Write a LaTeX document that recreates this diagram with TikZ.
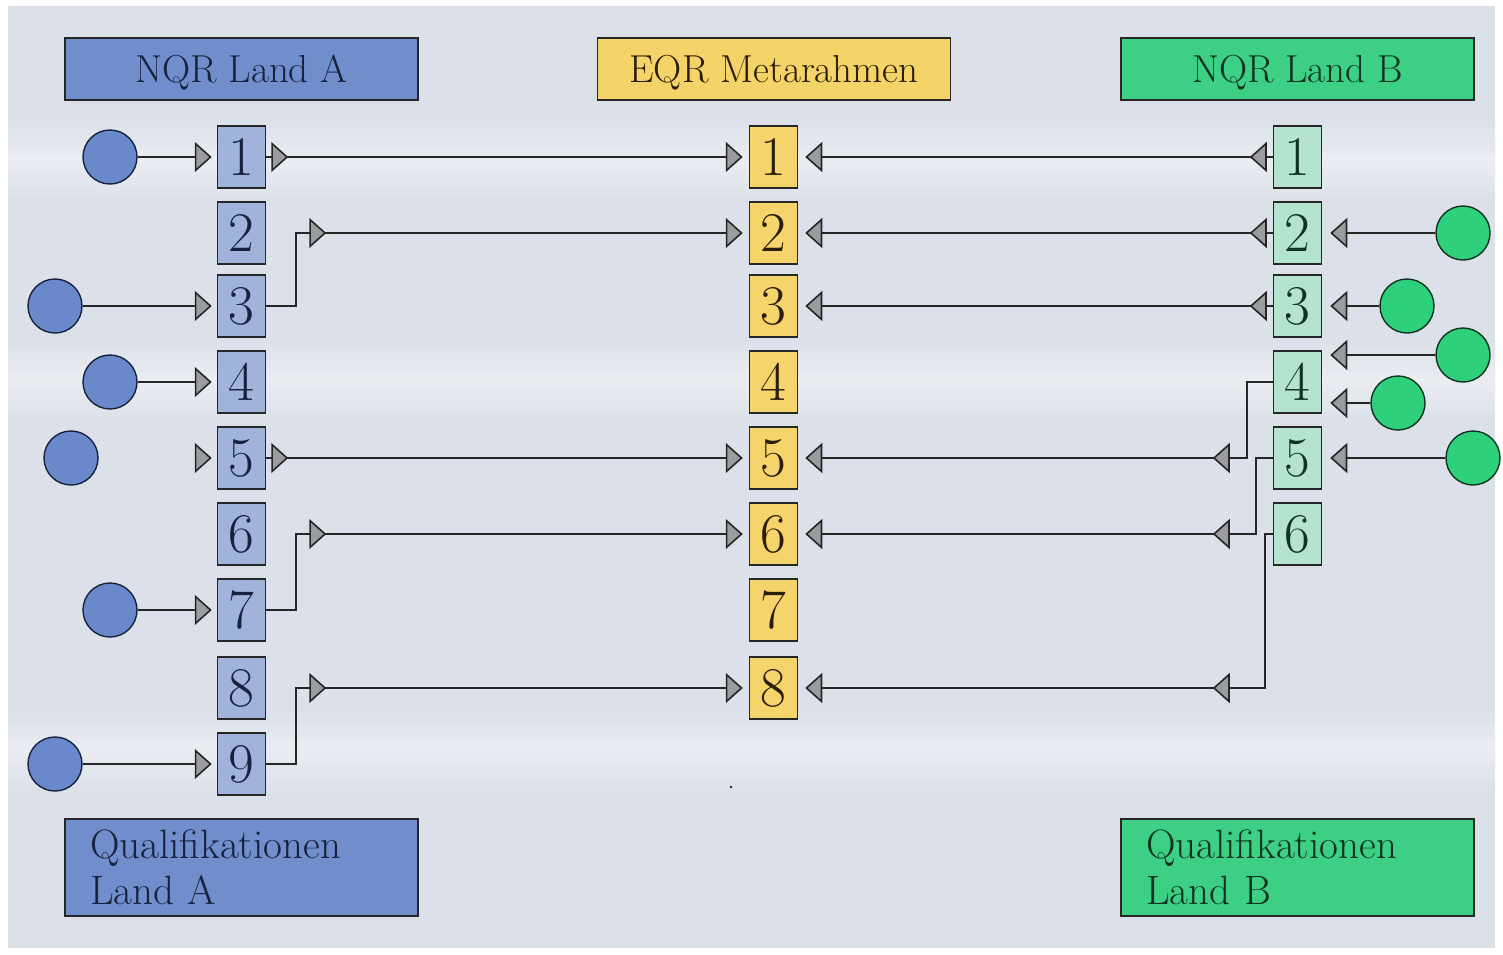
\documentclass[tikz,border=0pt]{standalone}
\usetikzlibrary{arrows.meta,calc,decorations.markings}
\definecolor{bgc}{HTML}{DCE1E9}
\definecolor{bgl}{HTML}{EAEDF2}
\definecolor{hAc}{HTML}{6F8ECB}
\definecolor{hMc}{HTML}{F4D468}
\definecolor{hBc}{HTML}{3DCF84}
\definecolor{lboxc}{HTML}{A0B3DB}
\definecolor{mboxc}{HTML}{F5D46B}
\definecolor{rboxc}{HTML}{B4E4CD}
\definecolor{cAc}{HTML}{6A89CA}
\definecolor{cBc}{HTML}{2FD07C}
\definecolor{tA}{HTML}{17223F}
\definecolor{tM}{HTML}{2A1E08}
\definecolor{tB}{HTML}{0F3320}
\definecolor{trig}{HTML}{9A9CA0}
\definecolor{linec}{HTML}{262626}
\tikzset{
  tri/.tip={Triangle[length=17pt,width=30pt,fill=trig]},
  conn/.style={draw=linec, line width=1.6pt},
  smark/.style={postaction={decorate,decoration={markings,mark=at position #1pt with {\arrow{tri}}}}},
  hdr/.style={draw=linec, line width=1.6pt, minimum width=353pt, minimum height=62pt, inner sep=0pt, text depth=0pt, font=\fontsize{39}{46}\selectfont},
  foot/.style={draw=linec, line width=1.6pt, minimum width=353pt, minimum height=97pt, inner xsep=25pt, inner ysep=0pt, text width=303pt, align=left, font=\fontsize{41}{46}\selectfont},
  numbox/.style={draw=linec, line width=1.5pt, minimum width=48pt, minimum height=62pt, inner sep=0pt, font=\fontsize{56}{56}\selectfont},
  lbox/.style={numbox, fill=lboxc, text=tA},
  mbox/.style={numbox, fill=mboxc, text=tM},
  rbox/.style={numbox, fill=rboxc, text=tB},
  cA/.style={circle, draw=tA, line width=1.4pt, fill=cAc, minimum size=54pt, inner sep=0pt},
  cB/.style={circle, draw=tB, line width=1.4pt, fill=cBc, minimum size=54pt, inner sep=0pt},
}
\begin{document}
\begin{tikzpicture}[x=1pt,y=-1pt]
\useasboundingbox (0,0) rectangle (1503,954);
% background panel
\fill[bgc] (8,6) rectangle (1495,948);
\shade[top color=bgc, bottom color=bgc, middle color=bgl] (8,120) rectangle (1495,200);
\shade[top color=bgc, bottom color=bgc, middle color=bgl] (8,340) rectangle (1495,420);
\shade[top color=bgc, bottom color=bgc, middle color=bgl] (8,710) rectangle (1495,790);

% headers and footers
\node[hdr, fill=hAc, text=tA] (hA) at (241.5,69) {NQR Land A};
\node[hdr, fill=hMc, text=tM] (hM) at (774,69) {EQR Metarahmen};
\node[hdr, fill=hBc, text=tB] (hB) at (1297.5,69) {NQR Land B};
\node[foot, fill=hAc, text=tA] (fA) at (241.5,867.5) {Qualifikationen\\Land A};
\node[foot, fill=hBc, text=tB] (fB) at (1297.5,867.5) {Qualifikationen\\Land B};

% number boxes
\foreach \i/\y in {1/157,2/233,3/306,4/382,5/458,6/534,7/610,8/688,9/764}
  \node[lbox] (L\i) at (241.5,\y) {\i};
\foreach \i/\y in {1/157,2/233,3/306,4/382,5/458,6/534,7/610,8/688}
  \node[mbox] (M\i) at (773.5,\y) {\i};
\foreach \i/\y in {1/157,2/233,3/306,4/382,5/458,6/534}
  \node[rbox] (R\i) at (1297.5,\y) {\i};

% circles left
\node[cA] (cA1) at (110,157) {};
\node[cA] (cA3) at (55,306) {};
\node[cA] (cA4) at (110,382) {};
\node[cA] (cA5) at (71,458) {};
\node[cA] (cA7) at (110,610) {};
\node[cA] (cA9) at (55,764) {};
% circles right
\node[cB] (cB2) at (1463,233) {};
\node[cB] (cB3) at (1407,306) {};
\node[cB] (cBx) at (1463,355) {};
\node[cB] (cBy) at (1398,403) {};
\node[cB] (cB5) at (1473,458) {};
\coordinate (tx) at ($(R4.east |- cBx.west)+(8,0)$);
\coordinate (ty) at ($(R4.east |- cBy.west)+(8,0)$);
\coordinate (t5) at ($(L5.west)+(-22,0)$);

% circle arrows left
\foreach \i in {1,3,4,7,9}
  \draw[conn, -tri, shorten >=5pt] (cA\i) -- (L\i);
\draw[conn, -tri, shorten >=5pt] (t5) -- (L5.west);
% circle arrows right
\draw[conn, -tri, shorten >=8pt] (cB2) -- (R2);
\draw[conn, -tri, shorten >=8pt] (cB3) -- (R3);
\draw[conn, -tri] (cBx) -- (tx);
\draw[conn, -tri] (cBy) -- (ty);
\draw[conn, -tri, shorten >=8pt] (cB5) -- (R5);

% left to middle
\draw[conn, -tri, shorten >=6pt, smark=22] (L1) -- (M1);
\draw[conn, -tri, shorten >=6pt, smark=22] (L5) -- (M5);
\draw[conn, -tri, shorten >=6pt, smark=133] (L3.east) -- ++(30,0) |- (M2);
\draw[conn, -tri, shorten >=6pt, smark=136] (L7.east) -- ++(30,0) |- (M6);
\draw[conn, -tri, shorten >=6pt, smark=136] (L9.east) -- ++(30,0) |- (M8);

% right to middle
\draw[conn, -tri, shorten >=7pt, smark=23] (R1) -- (M1);
\draw[conn, -tri, shorten >=7pt, smark=23] (R2) -- (M2);
\draw[conn, -tri, shorten >=7pt, smark=23] (R3) -- (M3);
\draw[conn, -tri, shorten >=7pt, smark=136] (R4.west) -- ++(-26,0) |- (M5);
\draw[conn, -tri, shorten >=7pt, smark=136] (R5.west) -- ++(-17,0) |- (M6);
\draw[conn, -tri, shorten >=7pt, smark=214] (R6.west) -- ++(-8,0) |- (M8);

% small dot
\fill[linec] (731,787) circle (1.3);
\end{tikzpicture}
\end{document}
